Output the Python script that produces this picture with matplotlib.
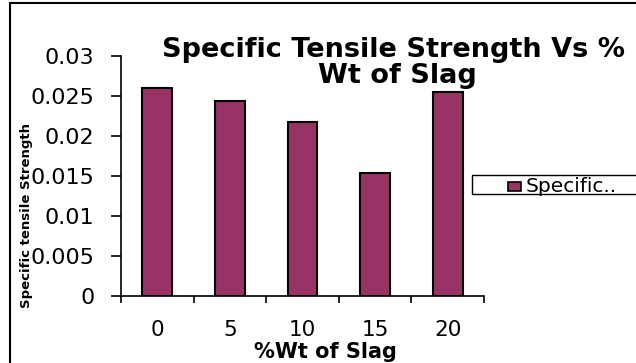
import matplotlib
matplotlib.use("Agg")
import matplotlib.pyplot as plt
from matplotlib.patches import Rectangle

plt.rcParams['font.family'] = ['DejaVu Sans']

# data
slag_wt = ["0", "5", "10", "15", "20"]
specific_strength = [0.0260, 0.0244, 0.0218, 0.0154, 0.0255]
yticks = [0, 0.005, 0.01, 0.015, 0.02, 0.025, 0.03]
ytick_labels = ["0", "0.005", "0.01", "0.015", "0.02", "0.025", "0.03"]
series_name = "Specific.."
bar_color = "#993366"

W, H = 636, 363
fig = plt.figure(figsize=(W / 100, H / 100), dpi=100)

# outer chart frame (right and bottom edges run off the picture)
fig.patches.append(Rectangle((10 / W, -0.1), 1.2, 1 - 3 / H + 0.1, transform=fig.transFigure,
                             fill=False, edgecolor="black", linewidth=1.5))

ax = fig.add_axes([121 / W, 1 - 296 / H, (484 - 121) / W, (296 - 56) / H])
x = range(len(slag_wt))
bars = ax.bar(x, specific_strength, width=0.41, color=bar_color, edgecolor="black",
              linewidth=1.5)

ax.set_xlim(-0.5, len(slag_wt) - 0.5)
ax.set_ylim(0, 0.03)
ax.spines["top"].set_visible(False)
ax.spines["right"].set_visible(False)
for s in ("left", "bottom"):
    ax.spines[s].set_linewidth(1.2)

# ticks on category boundaries, labels at centres
ax.set_xticks([i - 0.5 for i in range(len(slag_wt) + 1)])
ax.set_xticklabels([])
ax.set_xticks(list(x), minor=True)
ax.set_xticklabels(slag_wt, minor=True, fontsize=15.5)
ax.tick_params(axis="x", which="major", direction="out", length=5, width=1.2)
ax.tick_params(axis="x", which="minor", length=0, pad=17)

ax.set_yticks(yticks)
ax.set_yticklabels(ytick_labels, fontsize=16)
ax.tick_params(axis="y", direction="out", length=7, width=1.2, pad=12)

fig.text(325 / W, 1 - 352 / H, "%Wt of Slag", fontsize=15, fontweight="bold",
         ha="center", va="center")
fig.text(27 / W, 1 - 216 / H, "Specific tensile Strength", fontsize=9.5, fontweight="bold",
         rotation=90, ha="center", va="center")

fig.text(394 / W, 1 - 50 / H, "Specific Tensile Strength Vs %", fontsize=19.5,
         fontweight="bold", ha="center", va="center")
fig.text(397 / W, 1 - 76 / H, "Wt of Slag", fontsize=19.5,
         fontweight="bold", ha="center", va="center")

# legend box, drawn by hand (runs off the right edge like the reference)
fig.patches.append(Rectangle((472 / W, 1 - 194 / H), 0.3, 19 / H, transform=fig.transFigure,
                             facecolor="white", edgecolor="black", linewidth=1.0))
fig.patches.append(Rectangle((508 / W, 1 - 191 / H), 13 / W, 9 / H, transform=fig.transFigure,
                             facecolor=bar_color, edgecolor="black", linewidth=1.2))
fig.text(526 / W, 1 - 192 / H, series_name, fontsize=14.5, ha="left", va="baseline")

fig.savefig("out.png", dpi=100)
